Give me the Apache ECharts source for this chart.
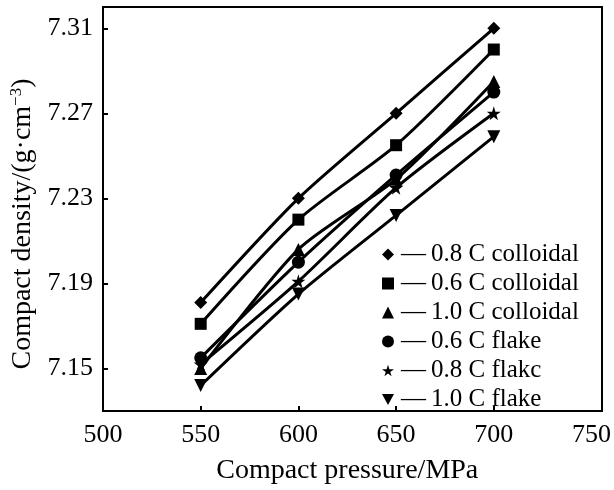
<!DOCTYPE html>
<html>
<head>
<meta charset="utf-8">
<script src="https://cdn.jsdelivr.net/npm/echarts@6/dist/echarts.min.js"></script>
<style>
  html, body { margin: 0; padding: 0; background: #fff; }
  #chart { width: 614px; height: 490px; }
</style>
</head>
<body>
<div id="chart"></div>
<script>
// compact pressure (MPa)
const pressure = [550, 600, 650, 700]
const seriesNames = ['0.8 C colloidal', '0.6 C colloidal', '1.0 C colloidal', '0.6 C flake', '0.8 C flakc', '1.0 C flake']
// compact density (g/cm3)
const c08Colloidal = [7.181, 7.230, 7.270, 7.310]
const c06Colloidal = [7.171, 7.220, 7.255, 7.300]
const c10Colloidal = [7.150, 7.206, 7.239, 7.285]
const c06Flake = [7.155, 7.200, 7.241, 7.280]
const c08Flake = [7.152, 7.191, 7.235, 7.270]
const c10Flake = [7.142, 7.185, 7.222, 7.259]
const yTicks = [7.15, 7.19, 7.23, 7.27, 7.31]
const xTicks = [500, 550, 600, 650, 700, 750]

const starPath = 'path://M50,0 L61,35 L98,35 L68,57 L79,91 L50,70 L21,91 L32,57 L2,35 L39,35 Z'
const downTri = 'path://M0,0 L10,0 L5,9 Z'
const symbols = ['diamond', 'rect', 'triangle', 'circle', starPath, downTri]
const sizes = [13, 12, 13, 13, 14, 13]
const dataList = [c08Colloidal, c06Colloidal, c10Colloidal, c06Flake, c08Flake, c10Flake]

const font = "'Liberation Serif', 'Times New Roman', serif"
const chart = echarts.init(document.getElementById('chart'))

chart.setOption({
  animation: false,
  textStyle: { fontFamily: font, color: '#000' },
  grid: { left: 103, right: 12, top: 7, bottom: 79 },
  legend: {
    orient: 'vertical',
    left: 377,
    top: 237,
    itemWidth: 12,
    itemHeight: 12,
    itemGap: 4,
    textStyle: {
      fontFamily: font,
      fontSize: 25,
      lineHeight: 25,
      color: '#000',
      padding: [0, 0, 0, 2]
    },
    formatter: name => '—\u2009' + name,
    data: seriesNames.map((n, i) => ({ name: n, icon: symbols[i], itemStyle: { color: '#000' } }))
  },
  xAxis: {
    type: 'value',
    min: 500,
    max: 750,
    interval: 50,
    name: 'Compact pressure/MPa',
    nameLocation: 'middle',
    nameGap: 46,
    nameTextStyle: { fontFamily: font, fontSize: 28, color: '#000' },
    axisLine: { show: true, lineStyle: { color: '#000', width: 2 } },
    axisTick: { show: true, inside: true, length: 5, lineStyle: { color: '#000', width: 2 }, customValues: [550, 600, 650, 700] },
    axisLabel: { fontFamily: font, fontSize: 26, color: '#000', margin: 11, customValues: xTicks },
    splitLine: { show: false }
  },
  yAxis: {
    type: 'value',
    min: 7.13,
    max: 7.32,
    name: 'Compact density/(g·cm{sup|−3})',
    nameLocation: 'middle',
    nameRotate: 90,
    nameGap: 53,
    nameTextStyle: {
      fontFamily: font,
      fontSize: 28,
      color: '#000',
      padding: [0, 0, 0, -30],
      rich: {
        sup: { fontFamily: font, fontSize: 17, color: '#000', verticalAlign: 'top', padding: [0, 0, 12, 0] }
      }
    },
    axisLine: { show: true, lineStyle: { color: '#000', width: 2 } },
    axisTick: { show: true, inside: true, length: 5, lineStyle: { color: '#000', width: 2 }, customValues: yTicks },
    axisLabel: { fontFamily: font, fontSize: 26, color: '#000', margin: 10, customValues: yTicks, formatter: v => v.toFixed(2) },
    splitLine: { show: false }
  },
  series: seriesNames.map((n, i) => ({
    name: n,
    type: 'line',
    data: pressure.map((p, j) => [p, dataList[i][j]]),
    symbol: symbols[i],
    symbolSize: sizes[i],
    smooth: 0.25,
    lineStyle: { color: '#000', width: 3 },
    itemStyle: { color: '#000' }
  })),
  graphic: [{
    type: 'rect',
    shape: { x: 103, y: 7, width: 499, height: 404 },
    style: { fill: 'none', stroke: '#000', lineWidth: 2 },
    silent: true
  }]
})
</script>
</body>
</html>
